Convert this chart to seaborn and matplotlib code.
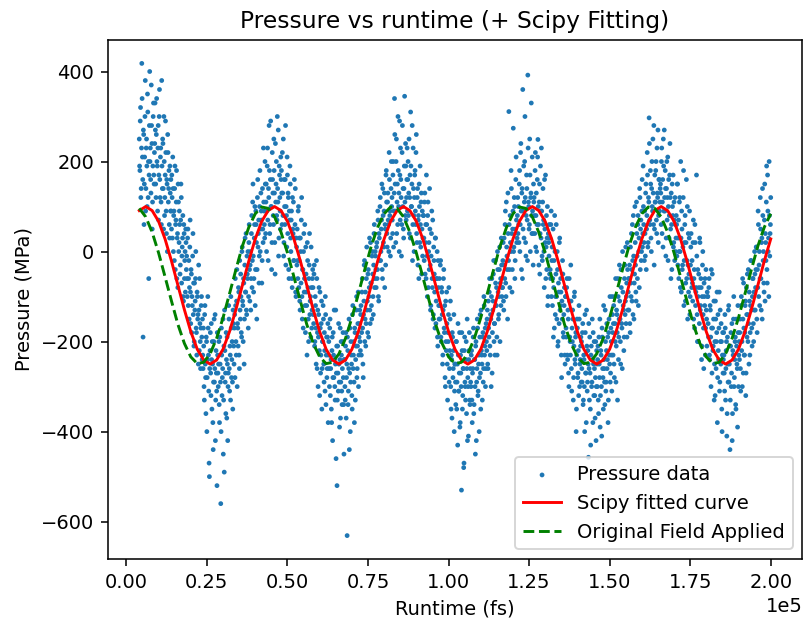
import numpy as np
import pandas as pd
import matplotlib
matplotlib.use("Agg")
import matplotlib.pyplot as plt
import seaborn as sns

runtime_start = 4000
runtime_end = 200000
# even-numbered samples
pressure_even = [
    250, 180, 320, 140, 418, 210, -190, 260, 150, 300, 90, 230, 190, 350, 120, -60, 280, 200, 160, 370, 240, 110, 300, 170, 220,
    330, 150, 260, 200, 90, 280, 170, 360, 120, 230, 60, 190, 250, 140, 300, 80, 170, 220, 40, 150, 260, 110, 180, 30, 130,
    160, 50, 120, 210, 0, 90, 140, -40, 70, 180, 30, -80, 110, 20, 60, -30, 150, -70, 10, 80, -110, 40, -20, -90, 20,
    -10, -100, 50, -60, -150, 10, -90, -40, -180, -120, 40, -70, -200, -130, -60, -170, -230, -100, -140, -30, -220, -160, -260, -120, -190,
    -150, -260, -210, -330, -120, -280, -190, -400, -240, -170, -310, -500, -220, -270, -160, -350, -250, -440, -200, -290, -140, -330, -270, -520, -230,
    -300, -200, -380, -250, -560, -170, -320, -260, -450, -210, -130, -290, -360, -240, -190, -420, -270, -150, -310, -230, -100, -280, -200, -350, -160,
    -250, -140, -60, -200, -110, -300, -170, -80, -230, -20, -150, -100, -190, 10, -120, -60, -250, -30, -90, 40, -140, -50, 0, -100, 60,
    -110, 0, -60, 80, -20, 150, -90, 30, 100, -40, 60, -150, 120, 10, 70, -10, 180, 50, 90, -70, 140, 20, 110, 60, 200,
    40, 150, 90, 230, -20, 120, 180, 60, 290, 100, 20, 160, 80, 250, 130, -50, 110, 200, 70, 140, 270, 30, 170, 90, 210,
    180, 60, 130, 250, 20, 100, 160, -30, 80, 210, 40, 120, -60, 70, 150, 0, 90, -80, 50, 110, -20, 30, 140, -100, 10,
    50, -60, 100, -20, -110, 30, -70, 120, -150, -40, 0, -90, 60, -180, -50, -120, 20, -80, -200, -30, -140, -100, 10, -170, -60,
    -80, -160, -30, -200, -120, -250, -60, -180, -300, -140, -220, -90, -270, -160, -350, -200, -120, -250, -180, -310, -140, -230, -280, -190, -380,
    -200, -300, -150, -260, -350, -220, -420, -180, -280, -240, -330, -130, -270, -520, -210, -310, -250, -390, -170, -290, -230, -340, -200, -280, -450,
    -240, -330, -180, -280, -631, -220, -310, -150, -270, -400, -200, -250, -350, -120, -230, -290, -170, -330, -210, -100, -260, -160, -300, -190, -130,
    -220, -120, -180, -60, -250, -140, -30, -200, -90, -160, 10, -110, -50, -190, -80, -130, 20, -70, -150, 0, -100, -30, 60, -60, -10,
    -80, 20, -40, 70, -110, 30, 100, -20, 50, 150, -60, 80, 10, 130, 60, -30, 180, 40, 110, 70, 0, 160, 90, 30, 200,
    120, 40, 200, 90, 340, 150, 20, 250, 110, 60, 180, 130, 290, 70, 160, -10, 220, 100, 50, 140, 345, 80, 190, 120, 230,
    160, 80, 250, 120, 30, 190, 100, 280, 60, 140, 0, 170, 90, 220, 40, 120, -30, 80, 150, 20, 60, 110, -50, 90, 30,
    80, -20, 130, 20, -60, 60, -100, 110, 0, -40, 50, -130, -10, 90, -80, -150, 10, -50, -170, 30, -110, -60, -190, -20, -120,
    -60, -150, -20, -200, -90, -250, -130, -40, -180, -280, -110, -220, -160, -330, -200, -80, -260, -150, -300, -230, -370, -190, -260, -140, -310,
    -250, -340, -200, -290, -430, -230, -310, -180, -380, -270, -530, -220, -320, -260, -470, -190, -300, -240, -360, -150, -280, -410, -220, -330, -260,
    -300, -220, -380, -260, -170, -340, -240, -450, -200, -290, -150, -320, -250, -400, -190, -270, -130, -230, -330, -180, -260, -120, -210, -300, -160,
    -220, -130, -260, -170, -90, -210, -140, -300, -60, -180, -110, -20, -160, -230, -70, -120, -190, 0, -90, -140, -40, -200, -60, 30, -100,
    -80, 20, -130, -30, 60, -70, 110, -10, -150, 40, 311, -40, 80, 0, 140, -90, 50, 274, 10, 100, -20, 160, 70, 30, 120,
    100, 20, 180, 60, 240, -40, 140, 360, 90, 30, 200, 120, -10, 170, 70, 392, 110, 50, 250, 0, 130, 80, 210, 40, 150,
    120, 40, 220, 80, 0, 160, 249, 60, 110, -50, 190, 30, 90, -20, 140, 70, -80, 50, 170, 10, -40, 100, -100, 20, 60,
    30, -60, 90, -20, -120, 50, -80, -170, 0, -100, 60, -150, -40, -200, -90, 20, -130, -60, -230, -110, -20, -180, -140, -80, -250,
    -100, -190, -60, -240, -150, -300, -110, -200, -30, -260, -170, -130, -330, -210, -90, -250, -180, -350, -150, -280, -220, -120, -300, -240, -190,
    -200, -290, -160, -330, -240, -400, -180, -270, -130, -310, -220, -457, -260, -190, -350, -230, -300, -150, -380, -250, -200, -320, -280, -420, -220,
    -300, -210, -360, -250, -150, -320, -230, -410, -190, -280, -120, -260, -340, -200, -290, -160, -240, -380, -180, -230, -100, -270, -200, -310, -140,
    -230, -120, -280, -160, -60, -210, -140, -330, -100, -190, -30, -150, -250, -80, -170, 0, -120, -220, -60, -140, 10, -100, -190, -40, -90,
    -130, -30, -180, -70, 40, -110, -20, 80, -150, -50, 20, -90, 110, -10, 60, -120, 30, 140, -40, 70, 0, 160, 40, 100, 20,
    90, -10, 150, 50, 220, 10, 120, 297, 70, 180, 30, 140, 100, 250, 60, -30, 170, 110, 200, 40, 130, 270, 80, 160, 110,
    150, 60, 230, 110, 10, 190, 270, 90, 140, 30, 200, 120, -20, 160, 80, 240, 50, 130, -40, 100, 170, 20, 70, 120, 0,
    80, -10, 150, 30, -60, 110, 0, 200, -90, 50, -30, 120, -120, 20, 80, -70, 160, -20, -150, 40, -50, 90, -100, 10, -60,
    -20, -110, 70, -60, -170, 20, -90, 170, -140, -40, -200, -80, 30, -130, -60, -240, -100, 0, -170, -70, -120, -230, -40, -150, -90,
    -100, -190, -60, -240, -130, -300, -170, -50, -220, -150, -330, -200, -110, -260, -180, -380, -140, -240, -90, -290, -200, -160, -350, -230, -270,
    -180, -270, -140, -330, -220, -410, -190, -290, -120, -250, -440, -210, -300, -160, -360, -230, -100, -280, -200, -340, -150, -250, -390, -180, -230,
    -240, -150, -310, -100, -200, -60, -270, -170, -230, -120, -320, -80, -190, -140, -40, -250, -110, -180, -20, -130, -210, -60, -160, -90, 0,
    -130, -40, 10, -180, -80, 60, -30, -120, 120, -60, 20, -150, 80, 0, -90, 150, 40, -20, 190, -70, 90, 30, 200, -10, 60,
]
# odd-numbered samples
pressure_odd = [
    190, 290, 120, 230, 340, 160, 270, 60, 210, 380, 140, 250, 100, 310, 200, 170, 400, 230, 130, 280, 50, 190, 330, 150, 240,
    270, 120, 340, 190, 230, 70, 300, 160, 210, 110, 380, 140, 240, 50, 200, 120, 290, 90, 160, 0, 220, 140, 60, 190, 90,
    90, 170, 30, 140, 80, -20, 190, 60, 110, -60, 40, 150, 0, 90, -50, 70, 120, -10, 30, -100, 60, -60, 0, 50, -40,
    -60, 30, -120, -20, -80, 70, -160, -50, -100, -10, -140, -210, -70, -110, 0, -180, -90, -150, -250, -130, -60, -200, -170, -100, -240,
    -230, -170, -300, -140, -250, -360, -200, -280, -100, -230, -470, -260, -180, -320, -240, -200, -380, -290, -150, -260, -420, -220, -310, -180, -270,
    -250, -340, -190, -290, -400, -230, -280, -150, -330, -490, -220, -270, -180, -370, -250, -300, -120, -260, -210, -330, -170, -240, -290, -130, -210,
    -170, -280, -120, -230, -40, -160, -210, -90, -260, -130, -50, -180, 0, -110, -200, -70, -150, 30, -90, -130, -10, -60, -170, 20, -40,
    -30, -130, 40, -80, 110, -10, -60, 60, -120, 90, 20, -40, 160, 40, -70, 100, 0, 130, 70, -20, 50, 230, 90, 30, 150,
    110, 0, 190, 70, 140, 280, 40, 160, 100, -40, 220, 130, 60, 180, 20, 240, 150, 80, 300, 110, -10, 190, 120, 50, 160,
    130, 220, 80, -10, 160, 60, 280, 100, 10, 170, 130, -40, 90, 190, 30, 70, -60, 120, 40, -20, 160, 60, -90, 30, -30,
    -20, 90, -80, 30, -130, 0, 70, -100, -40, -170, 40, -60, -120, 10, -90, -230, -20, -150, -60, 40, -110, -190, -80, -130, -40,
    -140, -50, -210, -100, -170, -20, -260, -130, -190, -80, -320, -170, -230, -110, -260, -200, -150, -290, -220, -100, -340, -190, -260, -160, -230,
    -260, -170, -320, -240, -380, -190, -280, -230, -130, -300, -250, -460, -210, -330, -270, -160, -290, -240, -370, -200, -310, -260, -180, -340, -240,
    -300, -210, -370, -250, -190, -340, -260, -440, -170, -290, -230, -320, -140, -260, -200, -380, -180, -240, -130, -280, -210, -90, -230, -160, -200,
    -140, -230, -90, -170, -280, -110, -20, -150, -210, -60, -130, -180, -40, -100, 30, -160, -70, -120, -10, -50, -140, 40, -80, 0, -40,
    10, -60, 90, -100, 40, -20, 120, 0, 70, -40, 140, 20, 90, -80, 50, 170, 110, 10, 130, 60, 220, 80, -10, 140, 100,
    70, 170, 10, 130, 260, 90, 200, 40, 150, 300, 100, 0, 170, 230, 120, 60, 280, 140, 30, 190, 110, 240, 70, 160, 90,
    200, 130, 40, 170, 310, 100, 150, -20, 230, 80, 120, 180, 60, 260, 20, 140, 70, -60, 100, 190, 10, 130, 50, -10, 80,
    30, 110, -50, 60, 170, -10, 80, -80, 20, 140, -30, -120, 40, -60, 70, -140, -20, -90, 30, -160, -60, 0, -210, -80, -150,
    -120, -30, -190, -80, -140, -230, -60, -170, -120, -300, -200, -90, -250, -180, -140, -290, -220, -110, -350, -240, -180, -280, -220, -400, -250,
    -290, -200, -350, -250, -160, -310, -270, -390, -230, -300, -180, -350, -260, -480, -220, -290, -330, -200, -260, -420, -300, -240, -180, -340, -290,
    -230, -330, -270, -190, -360, -240, -300, -210, -420, -260, -170, -310, -230, -280, -140, -350, -220, -250, -190, -290, -100, -230, -170, -260, -200,
    -150, -250, -110, -190, -60, -230, -150, -100, -270, -130, -50, -200, -160, -20, -120, -80, -230, -40, -150, -100, 10, -70, -120, -30, -80,
    -20, -110, 30, -60, 90, -100, 10, -40, 130, -20, 60, -80, 20, 180, 40, -40, 90, 0, 120, -60, 50, 210, 20, 80, 40,
    60, 150, 0, 220, 90, 130, -60, 50, 190, 110, 300, 20, 80, 140, -20, 230, 100, 60, 170, 120, 330, 40, 90, -30, 110,
    80, 180, 10, 130, 60, 210, 100, -30, 150, 40, 90, 230, -10, 110, 60, 0, 160, 20, -60, 80, 30, -120, 40, -10, -50,
    -40, 60, -100, 10, -60, -190, -20, 80, -140, -50, -100, 0, -210, -70, -160, 30, -120, -90, -280, -150, -50, -190, -120, -230, -100,
    -170, -80, -230, -130, -270, -60, -190, -230, -110, -310, -200, -150, -280, -100, -240, -190, -400, -230, -170, -270, -320, -150, -250, -210, -290,
    -260, -180, -340, -230, -300, -140, -270, -380, -210, -290, -250, -160, -330, -270, -430, -210, -290, -240, -180, -320, -260, -370, -200, -300, -250,
    -240, -330, -190, -280, -390, -220, -300, -170, -260, -350, -240, -290, -130, -310, -220, -260, -190, -330, -150, -250, -290, -170, -230, -100, -180,
    -160, -250, -100, -200, -290, -130, -180, -60, -240, -150, -110, -200, -40, -160, -260, -90, -130, -190, -30, -110, -160, -70, 20, -130, -60,
    -60, -160, 10, -100, -40, 60, -140, -10, -70, 100, -30, -110, 40, -60, 80, 0, -80, 120, 50, -20, 90, 10, 190, 60, -20,
    40, 130, -40, 80, 170, 20, 110, 240, 60, 150, 0, 200, 90, 130, 280, 50, 110, 180, 70, 230, 120, 20, 160, 90, 140,
    130, 200, 40, 160, 250, 90, 120, 180, -10, 140, 70, 210, 100, 30, 170, 120, -60, 60, 150, 80, 10, 110, -20, 60, 30,
    60, 150, -30, 70, 0, 120, -80, 30, 90, -40, 10, 180, -20, 60, -110, 20, -60, 100, -30, -90, 30, -140, -30, 40, -80,
    -70, 20, -150, -40, 60, -120, -80, -10, -200, -100, -50, -160, 20, -120, -80, -210, -30, -140, -260, -100, -60, -170, -130, -210, -100,
    -160, -80, -230, -120, -190, -40, -270, -170, -210, -110, -250, -320, -150, -200, -90, -280, -220, -170, -310, -130, -250, -200, -400, -180, -240,
    -230, -310, -170, -260, -200, -360, -250, -130, -290, -210, -330, -180, -270, -420, -220, -150, -300, -240, -190, -350, -210, -260, -120, -300, -200,
    -180, -260, -120, -220, -300, -150, -70, -230, -180, -110, -270, -140, -50, -200, -160, -90, -230, -120, -20, -170, -100, -60, -200, -130, -50,
    -80, 10, -150, -40, 90, -100, 0, -60, 50, -130, 30, 140, -20, -70, 70, -110, 20, 110, -40, 170, 0, -100, 80, 40, 120,
]

# ---- fitted curve and applied field, read every 2000 fs from 4000 to 200000 fs ----
fit_step = 2000
fitted_values = [
    91, 100, 91, 67, 28, -21, -75, -129, -178, -217, -241, -250, -241, -217, -178, -129, -75, -21, 28, 67,
    91, 100, 91, 67, 28, -21, -75, -129, -178, -217, -241, -250, -241, -217, -178, -129, -75, -21, 28, 67,
    91, 100, 91, 67, 28, -21, -75, -129, -178, -217, -241, -250, -241, -217, -178, -129, -75, -21, 28, 67,
    91, 100, 91, 67, 28, -21, -75, -129, -178, -217, -241, -250, -241, -217, -178, -129, -75, -21, 28, 67,
    91, 100, 91, 67, 28, -21, -75, -129, -178, -217, -241, -250, -241, -217, -178, -129, -75, -21, 28,
]
field_values = [
    96, 77, 43, -3, -56, -110, -162, -204, -234, -249, -246, -227, -193, -147, -94, -40, 12, 54, 84, 99,
    96, 77, 43, -3, -56, -110, -162, -204, -234, -249, -246, -227, -193, -147, -94, -40, 12, 54, 84, 99,
    96, 77, 43, -3, -56, -110, -162, -204, -234, -249, -246, -227, -193, -147, -94, -40, 12, 54, 84, 99,
    96, 77, 43, -3, -56, -110, -162, -204, -234, -249, -246, -227, -193, -147, -94, -40, 12, 54, 84, 99,
    96, 77, 43, -3, -56, -110, -162, -204, -234, -249, -246, -227, -193, -147, -94, -40, 12, 54, 84,
]

title = "Pressure vs runtime (+ Scipy Fitting)"
xlabel = "Runtime (fs)"
ylabel = "Pressure (MPa)"
labels = ["Pressure data", "Scipy fitted curve", "Original Field Applied"]

# ---- build tables ----
sample_grid = np.linspace(runtime_start, runtime_end, len(pressure_even) + len(pressure_odd))
scatter_df = pd.DataFrame({
    "runtime": np.concatenate([sample_grid[0::2], sample_grid[1::2]]),
    "pressure": pressure_even + pressure_odd,
})
fit_x = runtime_start + fit_step * np.arange(len(fitted_values))
fit_df = pd.DataFrame({"runtime": fit_x, "fit": fitted_values, "field": field_values})

# ---- figure ----
dpi = 140
fig = plt.figure(figsize=(805 / dpi, 619 / dpi), dpi=dpi)
ax = fig.add_axes([107.7 / 805, (619 - 559) / 619, (802.3 - 107.7) / 805, (559 - 40) / 619])

sns.scatterplot(data=scatter_df, x="runtime", y="pressure", ax=ax, s=6,
                color="#1f77b4", linewidth=0, edgecolor="none", label=labels[0])
sns.lineplot(data=fit_df, x="runtime", y="fit", ax=ax, color="red", linewidth=1.5,
             estimator=None, sort=False, label=labels[1])
sns.lineplot(data=fit_df, x="runtime", y="field", ax=ax, color="green", linewidth=1.5,
             linestyle="--", estimator=None, sort=False, label=labels[2])

ax.set_xlim(-5800, 209800)
ax.set_ylim(-683, 470)
ax.ticklabel_format(axis="x", style="sci", scilimits=(0, 0))
ax.set_title(title, fontsize=12)
ax.set_xlabel(xlabel)
ax.set_ylabel(ylabel)
ax.legend(loc="lower right")

fig.savefig("out.png", dpi=dpi)
